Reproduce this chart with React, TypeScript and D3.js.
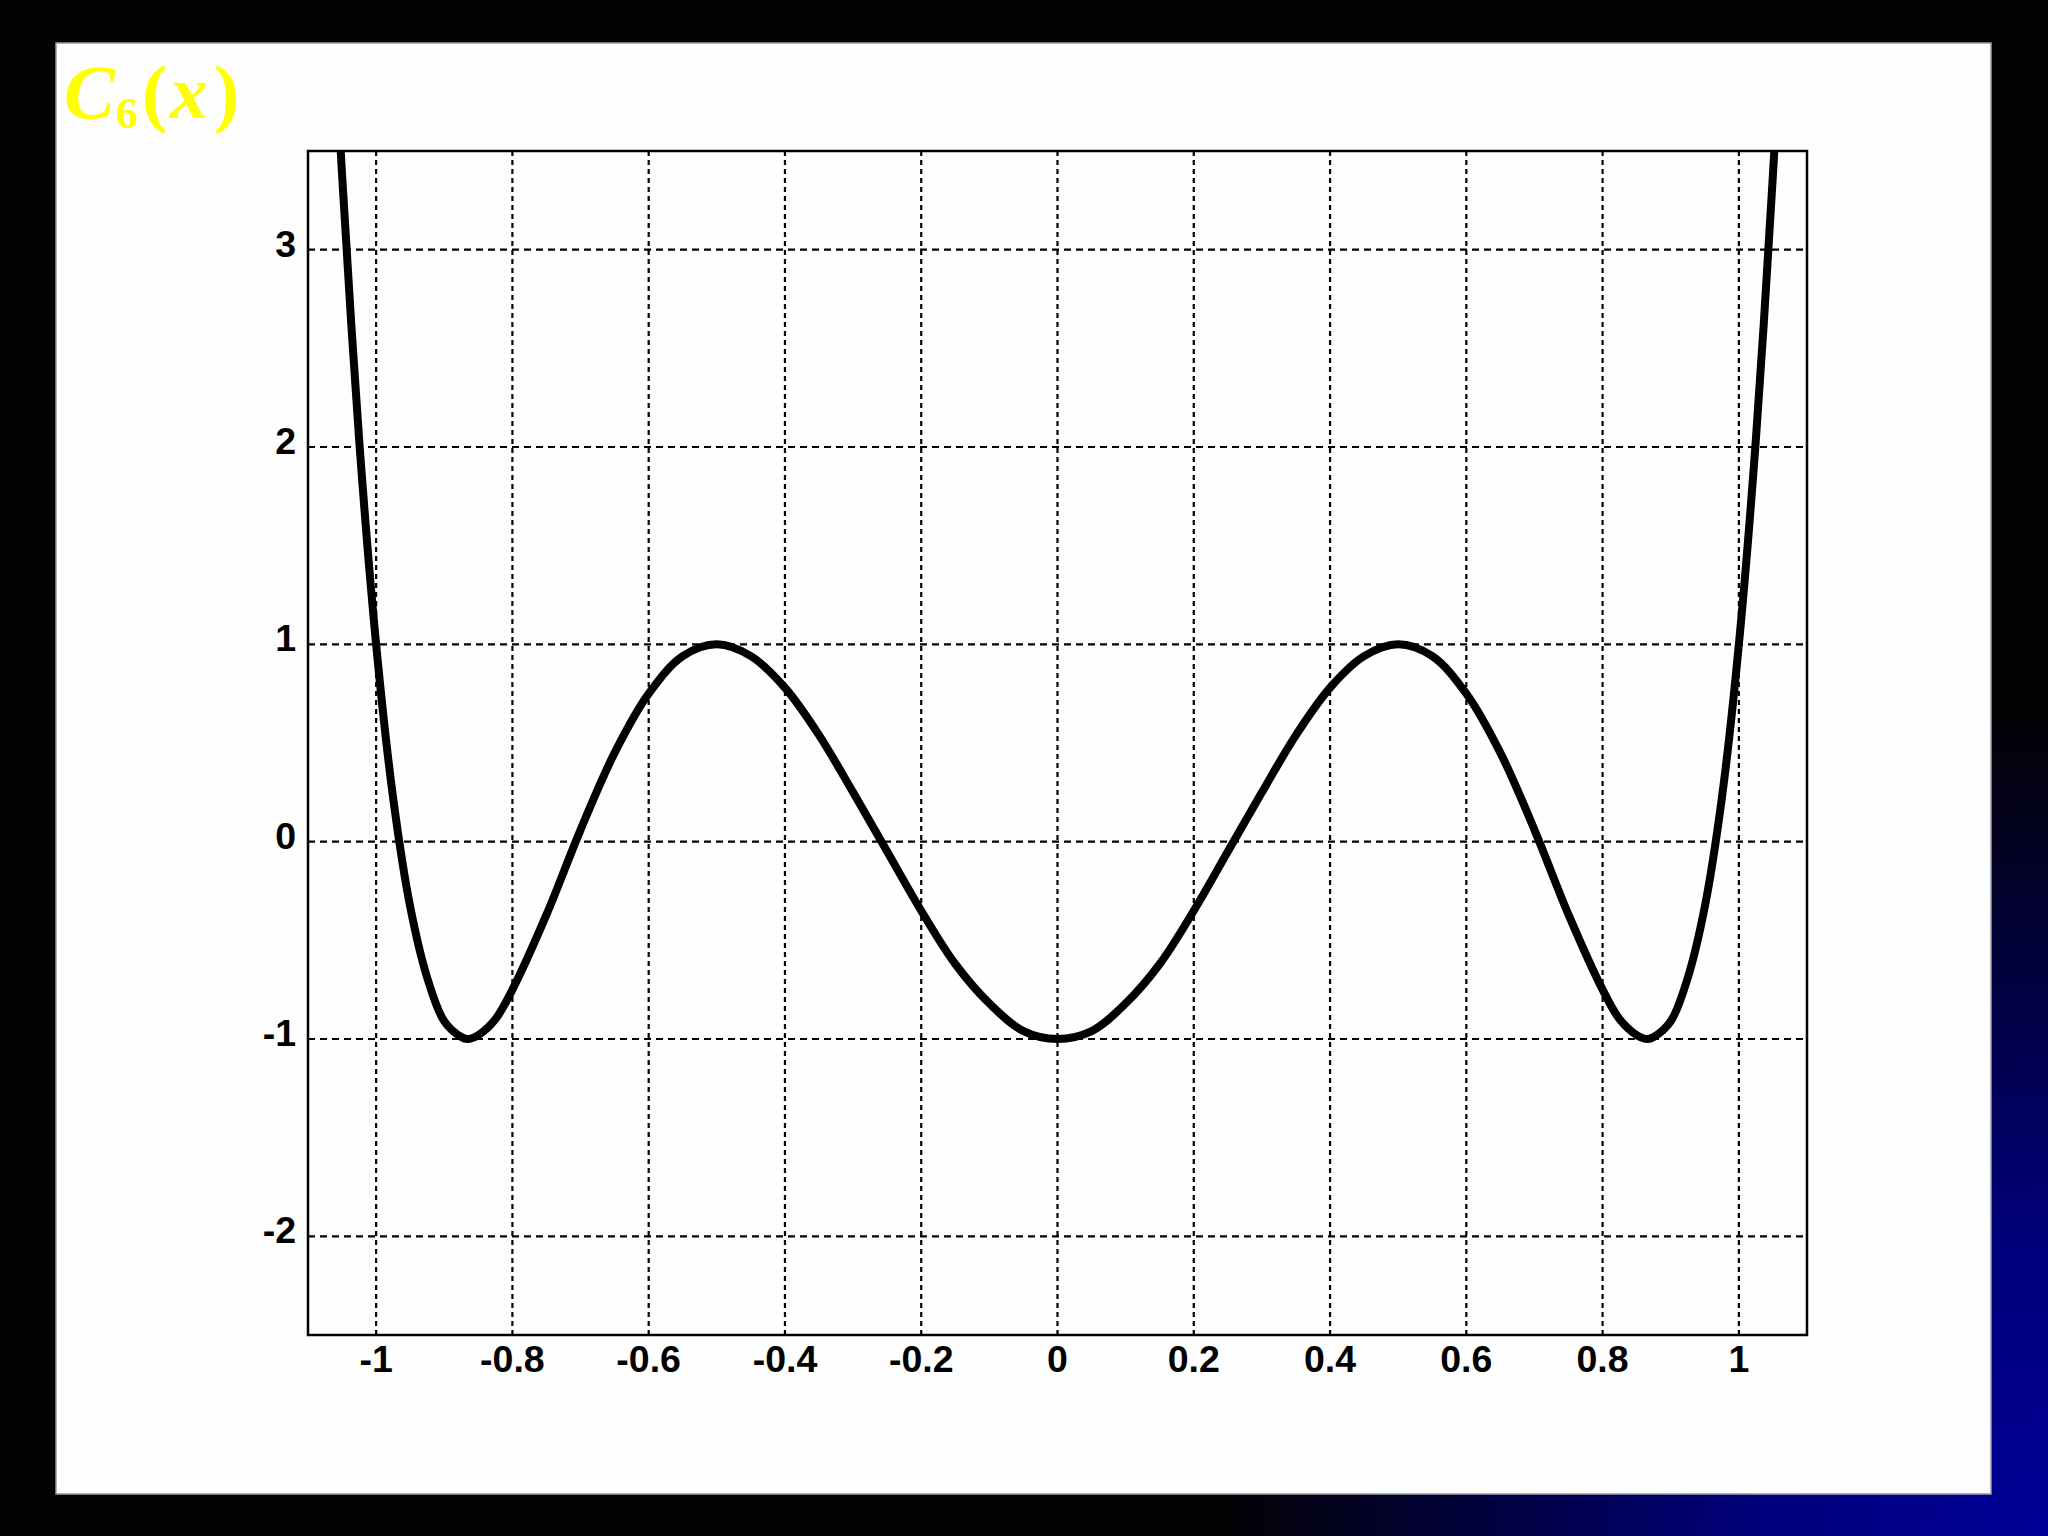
import React from "react";
import * as d3 from "d3";

const xValues: number[] = [
  -1.06, -1.05, -1.025, -1.0, -0.975, -0.95, -0.925, -0.9, -0.875, -0.866, -0.85, -0.825, -0.8,
  -0.75, -0.7, -0.65, -0.6, -0.55, -0.5, -0.45, -0.4, -0.35, -0.3, -0.25, -0.2, -0.15, -0.1, -0.05,
  0,
  0.05, 0.1, 0.15, 0.2, 0.25, 0.3, 0.35, 0.4, 0.45, 0.5, 0.55, 0.6, 0.65, 0.7, 0.75,
  0.8, 0.825, 0.85, 0.866, 0.875, 0.9, 0.925, 0.95, 0.975, 1.0, 1.025, 1.05, 1.06,
];
const yValues: number[] = [
  4.02, 3.38, 2.04, 1.0, 0.22, -0.33, -0.69, -0.91, -0.99, -1.0, -0.98, -0.9, -0.75,
  -0.37, 0.06, 0.45, 0.75, 0.94, 1.0, 0.94, 0.78, 0.54, 0.25, -0.05, -0.35, -0.62, -0.82, -0.96,
  -1.0,
  -0.96, -0.82, -0.62, -0.35, -0.05, 0.25, 0.54, 0.78, 0.94, 1.0, 0.94, 0.75, 0.45, 0.06, -0.37,
  -0.75, -0.9, -0.98, -1.0, -0.99, -0.91, -0.69, -0.33, 0.22, 1.0, 2.04, 3.38, 4.02,
];

const xTicks: number[] = [-1, -0.8, -0.6, -0.4, -0.2, 0, 0.2, 0.4, 0.6, 0.8, 1];
const xTickLabels: string[] = ["-1", "-0.8", "-0.6", "-0.4", "-0.2", "0", "0.2", "0.4", "0.6", "0.8", "1"];
const yTicks: number[] = [-2, -1, 0, 1, 2, 3];
const yTickLabels: string[] = ["-2", "-1", "0", "1", "2", "3"];

const W = 2048;
const H = 1536;
const plot = { left: 308, right: 1807, top: 151, bottom: 1335 };

export default function App() {
  const x = d3.scaleLinear().domain([-1.1, 1.1]).range([plot.left, plot.right]);
  const y = d3.scaleLinear().domain([-2.5, 3.5]).range([plot.bottom, plot.top]);

  const pts: [number, number][] = xValues.map((v, i) => [v, yValues[i]]);
  const line = d3
    .line<[number, number]>()
    .x((d) => x(d[0]))
    .y((d) => y(d[1]))
    .curve(d3.curveCatmullRom.alpha(0.5));
  const path = line(pts) || "";

  const tickFont = "'Liberation Sans', Arial, sans-serif";

  return (
    <svg
      width={W}
      height={H}
      style={{ position: "fixed", left: 0, top: 0, display: "block" }}
    >
      <defs>
        <radialGradient id="bg" cx={W} cy={H} r={820} gradientUnits="userSpaceOnUse">
          <stop offset="0" stopColor="#000098" />
          <stop offset="0.35" stopColor="#00007c" />
          <stop offset="1" stopColor="#030205" />
        </radialGradient>
        <clipPath id="plotClip">
          <rect x={plot.left} y={plot.top} width={plot.right - plot.left} height={plot.bottom - plot.top} />
        </clipPath>
      </defs>
      <rect x={0} y={0} width={W} height={H} fill="#030205" />
      <rect x={0} y={0} width={W} height={H} fill="url(#bg)" />
      {/* white panel */}
      <rect x={56} y={43} width={1935} height={1451} fill="#fefefe" stroke="#9a9aa8" strokeWidth={1.5} />

      {/* title */}
      <text
        y={118}
        fill="#ffff00"
        fontFamily="'Liberation Serif', 'Times New Roman', serif"
        fontWeight="bold"
        fontSize={76}
      >
        <tspan x={64} fontStyle="italic">C</tspan>
        <tspan x={116} y={128} fontSize={44}>6</tspan>
        <tspan x={142} y={118}>(</tspan>
        <tspan x={170} fontStyle="italic">x</tspan>
        <tspan x={214}>)</tspan>
      </text>

      {/* grid */}
      {xTicks.map((t, i) => (
        <line
          key={"gx" + i}
          x1={x(t)}
          x2={x(t)}
          y1={plot.top}
          y2={plot.bottom}
          stroke="#000"
          strokeWidth={2.2}
          strokeDasharray="5,4"
        />
      ))}
      {yTicks.map((t, i) => (
        <line
          key={"gy" + i}
          x1={plot.left}
          x2={plot.right}
          y1={y(t)}
          y2={y(t)}
          stroke="#000"
          strokeWidth={2.2}
          strokeDasharray="7,5"
        />
      ))}

      {/* curve */}
      <g clipPath="url(#plotClip)">
        <path d={path} fill="none" stroke="#000" strokeWidth={8} strokeLinejoin="round" strokeLinecap="butt" />
      </g>

      {/* frame */}
      <rect
        x={plot.left}
        y={plot.top}
        width={plot.right - plot.left}
        height={plot.bottom - plot.top}
        fill="none"
        stroke="#000"
        strokeWidth={2.5}
      />

      {/* tick labels */}
      {xTicks.map((t, i) => (
        <text
          key={"tx" + i}
          x={x(t)}
          y={1372}
          textAnchor="middle"
          fontFamily={tickFont}
          fontWeight="bold"
          fontSize={37.5}
          fill="#000"
        >
          {xTickLabels[i]}
        </text>
      ))}
      {yTicks.map((t, i) => (
        <text
          key={"ty" + i}
          x={296}
          y={y(t) + 7}
          textAnchor="end"
          fontFamily={tickFont}
          fontWeight="bold"
          fontSize={37.5}
          fill="#000"
        >
          {yTickLabels[i]}
        </text>
      ))}
    </svg>
  );
}
